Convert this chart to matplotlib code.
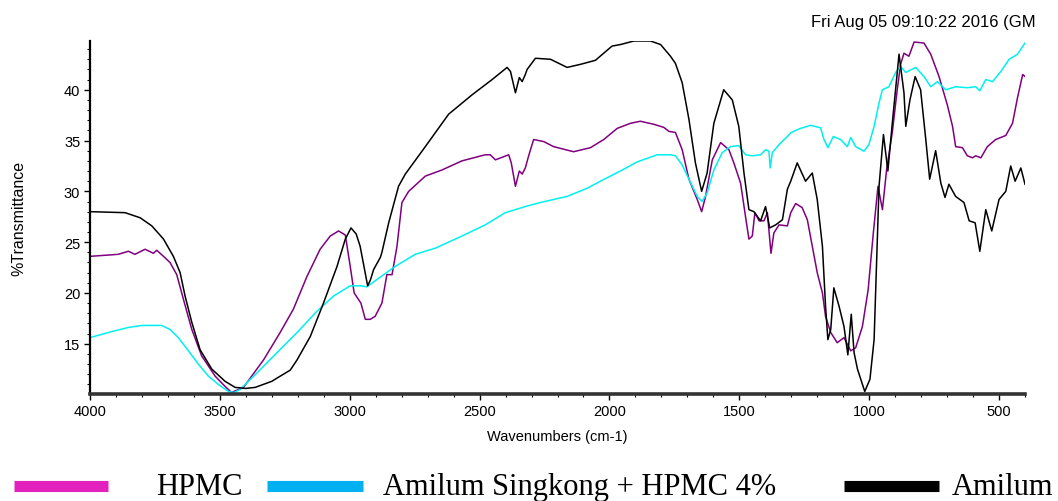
import matplotlib
matplotlib.use("Agg")
import matplotlib.pyplot as plt
from matplotlib.lines import Line2D
from matplotlib.ticker import MultipleLocator

# Amilum (black)
amilum_wn = [4000, 3865, 3807, 3762, 3717, 3679, 3653, 3634, 3608, 3576, 3531, 3480, 3441, 3400,
             3364, 3300, 3268, 3229, 3203, 3152, 3101, 3049, 3017, 2995, 2975, 2960, 2931, 2920,
             2908, 2882, 2876, 2850, 2812, 2786, 2709, 2619, 2529, 2452, 2394, 2381, 2362, 2347,
             2336, 2324, 2317, 2285, 2227, 2163, 2112, 2054, 1990, 1958, 1906, 1842, 1803, 1765,
             1746, 1720, 1694, 1669, 1645, 1624, 1598, 1560, 1527, 1502, 1482, 1463, 1444, 1418,
             1399, 1383, 1360, 1334, 1315, 1302, 1277, 1245, 1219, 1200, 1180, 1168, 1159, 1148,
             1136, 1116, 1097, 1082, 1069, 1058, 1045, 1017, 997, 981, 962, 945, 928, 911, 885,
             866, 859, 843, 823, 802, 782, 767, 744, 724, 708, 693, 667, 635, 615, 592, 574, 551,
             528, 500, 474, 455, 438, 416, 400]
amilum_t = [28.0, 27.9, 27.4, 26.6, 25.3, 23.6, 22.0, 19.7, 17.1, 14.4, 12.5, 11.3, 10.7, 10.6,
            10.7, 11.3, 11.8, 12.4, 13.4, 15.7, 19.0, 22.6, 25.3, 26.4, 25.8, 24.6, 20.7, 21.3,
            22.3, 23.5, 24.0, 26.9, 30.5, 31.7, 34.4, 37.6, 39.5, 41.0, 42.2, 41.8, 39.7, 41.2,
            40.8, 41.5, 42.0, 43.1, 43.0, 42.2, 42.5, 42.9, 44.3, 44.45, 44.8, 44.8, 44.45, 43.3,
            42.6, 40.7, 37.1, 32.8, 30.0, 31.8, 36.7, 40.0, 39.0, 36.4, 31.8, 28.2, 28.0, 27.1,
            28.5, 26.4, 26.7, 27.2, 30.2, 31.0, 32.8, 31.0, 31.8, 29.2, 24.6, 18.7, 15.4, 16.4,
            20.5, 18.7, 16.7, 13.9, 17.9, 14.1, 12.5, 10.3, 11.5, 15.4, 30.5, 35.6, 32.0, 36.7, 43.5,
            39.7, 36.4, 39.0, 41.3, 40.0, 35.1, 31.2, 34.0, 30.8, 29.4, 30.7, 29.5, 28.9, 27.1, 26.9,
            24.1, 28.2, 26.1, 29.2, 30.0, 32.5, 31.0, 32.3, 30.7]

# HPMC (purple)
hpmc_wn = [4000, 3891, 3852, 3827, 3788, 3756, 3743, 3717, 3692, 3666, 3640, 3608, 3570, 3518,
           3480, 3455, 3409, 3332, 3268, 3217, 3165, 3114, 3075, 3043, 3017, 2998, 2983, 2957,
           2940, 2921, 2902, 2876, 2857, 2837, 2818, 2799, 2773, 2709, 2645, 2568, 2478, 2459,
           2439, 2388, 2378, 2362, 2347, 2336, 2324, 2311, 2292, 2253, 2215, 2138, 2073, 2022,
           1970, 1919, 1881, 1829, 1791, 1771, 1746, 1720, 1694, 1662, 1645, 1630, 1604, 1572,
           1540, 1521, 1495, 1476, 1463, 1450, 1440, 1424, 1405, 1392, 1378, 1367, 1347, 1315,
           1302, 1283, 1258, 1238, 1219, 1200, 1180, 1168, 1148, 1123, 1097, 1071, 1052, 1026,
           1004, 984, 966, 949, 933, 911, 892, 879, 866, 847, 827, 789, 763, 731, 699, 679, 667,
           641, 622, 602, 590, 570, 545, 513, 474, 448, 429, 409, 400]
hpmc_t = [23.6, 23.8, 24.1, 23.8, 24.3, 23.9, 24.2, 23.6, 23.0, 21.8, 19.35, 16.4, 13.8, 11.8,
          10.8, 10.2, 10.7, 13.4, 16.1, 18.4, 21.6, 24.3, 25.6, 26.1, 25.7, 22.6, 20.0, 19.0,
          17.4, 17.4, 17.7, 19.0, 21.8, 21.8, 24.6, 28.9, 30.0, 31.5, 32.1, 33.0, 33.6, 33.6,
          33.1, 33.6, 32.8, 30.5, 32.0, 31.7, 32.3, 33.5, 35.1, 34.9, 34.4, 33.9, 34.3, 35.1,
          36.2, 36.7, 36.9, 36.6, 36.3, 35.9, 35.8, 34.1, 31.2, 29.2, 28.0, 29.5, 33.1, 34.8,
          34.1, 32.8, 30.8, 27.5, 25.3, 25.6, 27.9, 27.1, 27.1, 27.9, 23.9, 25.9, 26.7, 26.6,
          27.9, 28.8, 28.4, 27.2, 24.6, 22.0, 20.0, 17.7, 16.1, 15.1, 15.6, 14.3, 14.6, 16.7,
          20.3, 25.9, 30.5, 28.2, 32.1, 35.8, 40.0, 42.5, 43.6, 43.3, 44.7, 44.6, 43.5, 41.3, 38.5,
          36.4, 34.4, 34.3, 33.5, 33.3, 33.5, 33.3, 34.4, 35.1, 35.5, 36.7, 39.2, 41.5, 41.3]

# Amilum Singkong + HPMC 4% (cyan)
mix_wn = [4000, 3916, 3852, 3801, 3724, 3692, 3660, 3621, 3583, 3544, 3506, 3467, 3445, 3422,
          3358, 3281, 3203, 3126, 3062, 2998, 2960, 2934, 2902, 2825, 2748, 2671, 2568, 2478,
          2401, 2324, 2266, 2163, 2086, 2035, 1958, 1893, 1816, 1765, 1746, 1720, 1694, 1662,
          1643, 1624, 1598, 1566, 1534, 1502, 1476, 1450, 1418, 1399, 1386, 1381, 1373, 1347,
          1315, 1302, 1283, 1264, 1225, 1187, 1174, 1159, 1138, 1110, 1084, 1071, 1052, 1020,
          1001, 981, 962, 949, 924, 898, 879, 859, 821, 789, 763, 737, 705, 667, 622, 590, 574,
          551, 525, 493, 461, 429, 400]
mix_t = [15.6, 16.2, 16.6, 16.8, 16.8, 16.4, 15.6, 14.3, 13.0, 11.8, 11.0, 10.3, 10.2, 10.5,
         12.1, 14.1, 16.1, 18.2, 19.7, 20.7, 20.7, 20.6, 21.2, 22.6, 23.8, 24.4, 25.6, 26.7,
         27.9, 28.5, 28.9, 29.5, 30.3, 31.0, 32.0, 32.9, 33.6, 33.6, 33.5, 32.6, 31.2, 29.5,
         29.0, 29.85, 32.1, 33.8, 34.4, 34.5, 33.6, 33.5, 33.6, 34.1, 33.95, 32.3, 33.8, 34.6,
         35.4, 35.75, 36.0, 36.2, 36.5, 36.25, 35.1, 34.3, 35.4, 35.1, 34.4, 35.3, 34.4, 33.95,
         34.6, 36.4, 38.7, 40.0, 40.3, 41.7, 42.3, 41.7, 42.2, 41.3, 40.3, 40.8, 40.0, 40.3, 40.2,
         40.3, 39.9, 41.0, 40.8, 41.8, 43.0, 43.5, 44.6]

W, H = 1058, 502
fig = plt.figure(figsize=(W / 100, H / 100), dpi=100)
ax = fig.add_axes([90 / W, 107 / H, 935 / W, 353 / H])

ax.plot(hpmc_wn, hpmc_t, color="#800080", lw=1.1)
ax.plot(mix_wn, mix_t, color="#00F0F0", lw=1.1)
ax.plot(amilum_wn, amilum_t, color="black", lw=1.1)

ax.set_xlim(4000, 400)
ax.set_ylim(10.05, 44.8)
ax.set_xticks([4000, 3500, 3000, 2500, 2000, 1500, 1000, 500])
ax.set_yticks([15, 20, 25, 30, 35, 40])
ax.yaxis.set_minor_locator(MultipleLocator(1))
ax.xaxis.set_minor_locator(MultipleLocator(100))

for s in ["top", "right"]:
    ax.spines[s].set_visible(False)
ax.spines["left"].set_linewidth(1.6)
ax.spines["bottom"].set_linewidth(2.6)
ax.spines["bottom"].set_color("#333333")

ax.tick_params(axis="both", which="major", labelsize=10.5, direction="out", length=4, width=1)
ax.tick_params(axis="both", which="minor", direction="out", length=2.5, width=0.8)
ax.tick_params(axis="x", pad=3)
ax.tick_params(axis="y", pad=3)
for lab in ax.get_xticklabels() + ax.get_yticklabels():
    lab.set_fontfamily("Liberation Sans")

ax.set_xlabel("Wavenumbers (cm-1)", fontsize=10.5, family="Liberation Sans", labelpad=8)
fig.text(18.5 / W, 1 - 218 / H, "%Transmittance", rotation=90, ha="center", va="center",
         fontsize=11.5, family="Liberation Sans")

fig.text(811 / W, 1 - 22 / H, "Fri Aug 05 09:10:22 2016 (GM", ha="left", va="center",
         fontsize=12, family="Liberation Sans")

# legend strip at the bottom
ly = 1 - 487 / H
base = 1 - 495 / H
legend_items = [
    ("HPMC", "#E322BE", 14, 108, 156),
    ("Amilum Singkong + HPMC 4%", "#00B0F0", 267, 363, 383),
    ("Amilum", "black", 844, 939, 952),
]
for label, col, x0, x1, tx in legend_items:
    fig.add_artist(Line2D([x0 / W, x1 / W], [ly, ly], color=col, lw=8,
                          solid_capstyle="butt", transform=fig.transFigure))
    fig.text(tx / W, base, label, ha="left", va="baseline", fontsize=22,
             family="Liberation Serif")

fig.savefig("out.png", dpi=100)
